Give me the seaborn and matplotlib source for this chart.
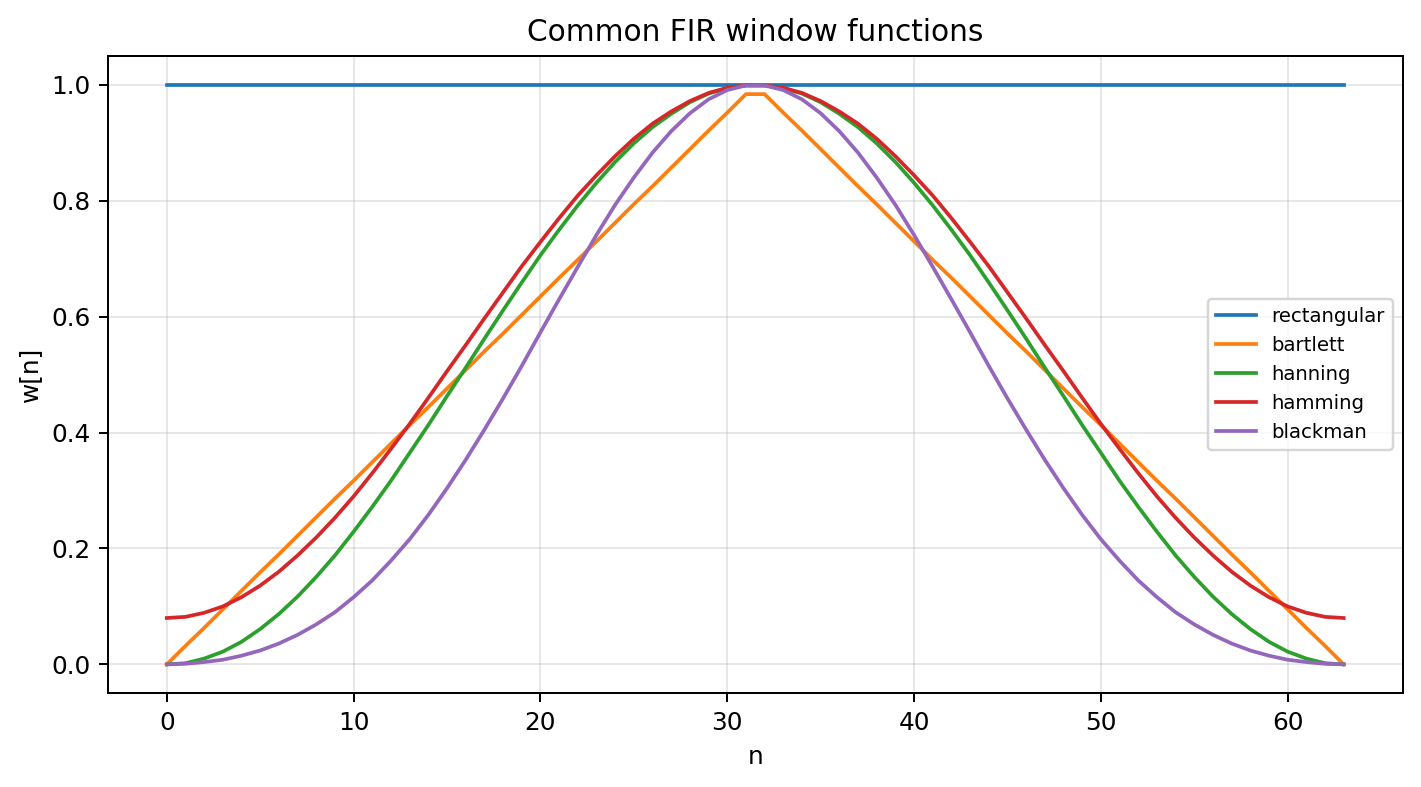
import pandas as pd
import matplotlib
matplotlib.use("Agg")
import matplotlib.pyplot as plt
import seaborn as sns

plt.rcParams['font.family'] = ['DejaVu Sans']

# sample index, 64-point windows
n = list(range(64))

rectangular = [1.0] * 64

bartlett = [
    0.000, 0.032, 0.063, 0.095, 0.127, 0.159, 0.190, 0.222, 0.254, 0.286, 0.317, 0.349, 0.381, 0.413, 0.444, 0.476,
    0.508, 0.540, 0.571, 0.603, 0.635, 0.667, 0.698, 0.730, 0.762, 0.794, 0.825, 0.857, 0.889, 0.921, 0.952, 0.984,
    0.984, 0.952, 0.921, 0.889, 0.857, 0.825, 0.794, 0.762, 0.730, 0.698, 0.667, 0.635, 0.603, 0.571, 0.540, 0.508,
    0.476, 0.444, 0.413, 0.381, 0.349, 0.317, 0.286, 0.254, 0.222, 0.190, 0.159, 0.127, 0.095, 0.063, 0.032, 0.000,
]

hanning = [
    0.000, 0.002, 0.010, 0.022, 0.039, 0.061, 0.087, 0.117, 0.151, 0.188, 0.229, 0.272, 0.317, 0.365, 0.413, 0.463,
    0.512, 0.562, 0.611, 0.659, 0.706, 0.750, 0.792, 0.831, 0.867, 0.899, 0.927, 0.950, 0.970, 0.985, 0.994, 0.999,
    0.999, 0.994, 0.985, 0.970, 0.950, 0.927, 0.899, 0.867, 0.831, 0.792, 0.750, 0.706, 0.659, 0.611, 0.562, 0.512,
    0.463, 0.413, 0.365, 0.317, 0.272, 0.229, 0.188, 0.151, 0.117, 0.087, 0.061, 0.039, 0.022, 0.010, 0.002, 0.000,
]

hamming = [
    0.080, 0.082, 0.089, 0.100, 0.116, 0.136, 0.160, 0.188, 0.219, 0.253, 0.290, 0.330, 0.372, 0.415, 0.460, 0.506,
    0.551, 0.597, 0.642, 0.687, 0.729, 0.770, 0.809, 0.844, 0.877, 0.907, 0.933, 0.954, 0.972, 0.986, 0.995, 0.999,
    0.999, 0.995, 0.986, 0.972, 0.954, 0.933, 0.907, 0.877, 0.844, 0.809, 0.770, 0.729, 0.687, 0.642, 0.597, 0.551,
    0.506, 0.460, 0.415, 0.372, 0.330, 0.290, 0.253, 0.219, 0.188, 0.160, 0.136, 0.116, 0.100, 0.089, 0.082, 0.080,
]

blackman = [
    0.000, 0.001, 0.004, 0.008, 0.015, 0.024, 0.036, 0.051, 0.069, 0.090, 0.116, 0.145, 0.179, 0.216, 0.258, 0.304,
    0.353, 0.405, 0.459, 0.515, 0.573, 0.630, 0.686, 0.741, 0.793, 0.840, 0.883, 0.920, 0.951, 0.975, 0.991, 0.999,
    0.999, 0.991, 0.975, 0.951, 0.920, 0.883, 0.840, 0.793, 0.741, 0.686, 0.630, 0.573, 0.515, 0.459, 0.405, 0.353,
    0.304, 0.258, 0.216, 0.179, 0.145, 0.116, 0.090, 0.069, 0.051, 0.036, 0.024, 0.015, 0.008, 0.004, 0.001, 0.000,
]

windows = ["rectangular", "bartlett", "hanning", "hamming", "blackman"]
series = [rectangular, bartlett, hanning, hamming, blackman]

df = pd.concat(
    [pd.DataFrame({"n": n, "w": vals, "window": name}) for name, vals in zip(windows, series)],
    ignore_index=True,
)

fig, ax = plt.subplots(figsize=(1421 / 178, 787 / 178), dpi=178)
sns.lineplot(data=df, x="n", y="w", hue="window", hue_order=windows,
             palette=sns.color_palette("tab10", 5), linewidth=1.5, ax=ax)

ax.set_title("Common FIR window functions")
ax.set_xlabel("n")
ax.set_ylabel("w[n]")
ax.grid(True, alpha=0.3)
ax.legend(loc="center right", fontsize=8)

fig.subplots_adjust(left=0.076, right=0.987, top=0.929, bottom=0.119)
fig.savefig("out.png", dpi=178)
